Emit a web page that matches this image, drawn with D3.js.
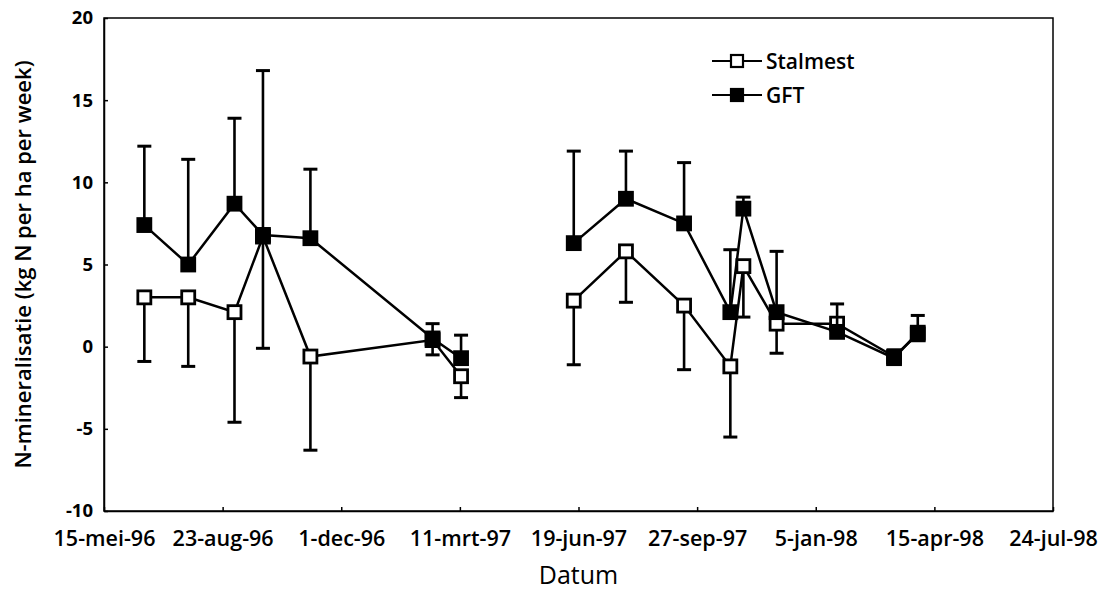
<!DOCTYPE html>
<html>
<head>
<meta charset="utf-8">
<script src="https://cdn.jsdelivr.net/npm/d3@7"></script>
<style>
  body { margin: 0; background: #fff; }
  text { font-family: "Open Sans", "Noto Sans", sans-serif; fill: #000; }
</style>
</head>
<body>
<svg id="chart" width="1113" height="610"></svg>
<script>
// meetdata N-mineralisatie, twee perioden
let datums = ["1996-06-18", "1996-07-25", "1996-09-02", "1996-09-26", "1996-11-05", "1997-02-16", "1997-03-12",
              "1997-06-15", "1997-07-29", "1997-09-16", "1997-10-25", "1997-11-05", "1997-12-03", "1998-01-23", "1998-03-12", "1998-04-01"];
let periode = [1, 1, 1, 1, 1, 1, 1, 2, 2, 2, 2, 2, 2, 2, 2, 2];
let stalmest = [3.0, 3.0, 2.1, 6.7, -0.6, 0.4, -1.8, 2.8, 5.8, 2.5, -1.2, 4.9, 1.4, 1.4, -0.6, 0.75];
let stalmestSd = [3.9, 4.2, 6.7, 6.8, 5.7, 0.9, 1.3, 3.9, 3.1, 3.9, 4.3, 3.1, 1.8, 0.4, 0.3, 0.3];
let gft = [7.4, 5.0, 8.7, 6.8, 6.6, 0.5, -0.7, 6.3, 9.0, 7.5, 2.1, 8.4, 2.1, 0.9, -0.7, 0.85];
let gftSd = [4.8, 6.4, 5.2, 10.0, 4.2, 0.9, 1.4, 5.6, 2.9, 3.7, 3.8, 0.7, 3.7, 1.7, 0.5, 1.05];

let xTicks = ["1996-05-15", "1996-08-23", "1996-12-01", "1997-03-11", "1997-06-19", "1997-09-27", "1998-01-05", "1998-04-15", "1998-07-24"];
let yTicks = [-10, -5, 0, 5, 10, 15, 20];

let width = 1113,
    height = 610;
let plot = {left: 104, right: 1053, top: 18, bottom: 511};

let parse = d3.timeParse("%Y-%m-%d");
let nl = d3.timeFormatLocale({
    dateTime: "%a %e %B %Y %X", date: "%d-%m-%Y", time: "%H:%M:%S", periods: ["", ""],
    days: ["zondag", "maandag", "dinsdag", "woensdag", "donderdag", "vrijdag", "zaterdag"],
    shortDays: ["zo", "ma", "di", "wo", "do", "vr", "za"],
    months: ["januari", "februari", "maart", "april", "mei", "juni", "juli", "augustus", "september", "oktober", "november", "december"],
    shortMonths: ["jan", "feb", "mrt", "apr", "mei", "jun", "jul", "aug", "sep", "okt", "nov", "dec"]
});
let fmt = nl.format("%-d-%b-%y");

let svg = d3.select("#chart");

let x = d3.scaleTime()
    .domain([parse(xTicks[0]), parse(xTicks[xTicks.length - 1])])
    .range([plot.left, plot.right]);
let y = d3.scaleLinear()
    .domain([-10, 20])
    .range([plot.bottom, plot.top]);

let punten = datums.map((d, i) => ({
    datum: parse(d), periode: periode[i],
    stalmest: stalmest[i], stalmestSd: stalmestSd[i],
    gft: gft[i], gftSd: gftSd[i]
}));

// kader
svg.append("rect")
    .attr("x", plot.left).attr("y", plot.top)
    .attr("width", plot.right - plot.left).attr("height", plot.bottom - plot.top)
    .attr("fill", "none").attr("stroke", "#000").attr("stroke-width", 1.5);

let xAxis = svg.append("g")
    .attr("transform", `translate(0,${plot.bottom})`)
    .call(d3.axisBottom(x).tickValues(xTicks.map(parse)).tickFormat(fmt)
        .tickSizeInner(-4).tickSizeOuter(0).tickPadding(20));
let yAxis = svg.append("g")
    .attr("transform", `translate(${plot.left},0)`)
    .call(d3.axisLeft(y).tickValues(yTicks).tickFormat(d => String(d))
        .tickSizeInner(-4).tickSizeOuter(0).tickPadding(11));

[xAxis, yAxis].forEach(a => {
    a.select(".domain").attr("stroke-width", 1.5);
    a.selectAll(".tick line").attr("stroke-width", 1.5);
    a.selectAll(".tick text")
        .attr("font-family", "'Open Sans', sans-serif")
        .attr("font-weight", 600);
});
xAxis.selectAll(".tick text").attr("font-size", 21.5);
yAxis.selectAll(".tick text").attr("font-size", 18.5).attr("font-weight", 700);

svg.append("text")
    .attr("transform", `translate(22,${(plot.top + plot.bottom) / 2}) rotate(-90)`)
    .attr("text-anchor", "middle").attr("dominant-baseline", "central")
    .attr("font-size", 22).attr("font-weight", 600)
    .text("N-mineralisatie (kg N per ha per week)");

svg.append("text")
    .attr("x", (plot.left + plot.right) / 2).attr("y", 584)
    .attr("text-anchor", "middle")
    .attr("font-size", 25).attr("font-weight", 500)
    .text("Datum");

let series = [
    {key: "stalmest", sd: "stalmestSd", dir: -1, fill: "#fff"},
    {key: "gft", sd: "gftSd", dir: 1, fill: "#000"}
];

let size = 13, cap = 14;

series.forEach(s => {
    let g = svg.append("g");

    // foutbalken: GFT omhoog, stalmest omlaag
    let eb = g.selectAll(".eb").data(punten).join("g");
    eb.append("line")
        .attr("x1", d => x(d.datum)).attr("x2", d => x(d.datum))
        .attr("y1", d => y(d[s.key])).attr("y2", d => y(d[s.key] + s.dir * d[s.sd]))
        .attr("stroke", "#000").attr("stroke-width", 2.6);
    eb.append("line")
        .attr("x1", d => x(d.datum) - cap / 2).attr("x2", d => x(d.datum) + cap / 2)
        .attr("y1", d => y(d[s.key] + s.dir * d[s.sd])).attr("y2", d => y(d[s.key] + s.dir * d[s.sd]))
        .attr("stroke", "#000").attr("stroke-width", 3);

    let line = d3.line().x(d => x(d.datum)).y(d => y(d[s.key]));
    d3.groups(punten, d => d.periode).forEach(([p, rows]) => {
        g.append("path").datum(rows)
            .attr("d", line)
            .attr("fill", "none").attr("stroke", "#000").attr("stroke-width", 2.5);
    });

    g.selectAll(".m").data(punten).join("rect")
        .attr("x", d => x(d.datum) - size / 2).attr("y", d => y(d[s.key]) - size / 2)
        .attr("width", size).attr("height", size)
        .attr("fill", s.fill).attr("stroke", "#000").attr("stroke-width", 2.8);
});

// legenda
let legend = svg.append("g").attr("transform", "translate(712,0)");
let legendItems = [{naam: "Stalmest", fill: "#fff", y: 61}, {naam: "GFT", fill: "#000", y: 95}];
legendItems.forEach(l => {
    legend.append("line").attr("x1", 0).attr("x2", 50).attr("y1", l.y).attr("y2", l.y)
        .attr("stroke", "#000").attr("stroke-width", 2.2);
    legend.append("rect").attr("x", 25 - 6).attr("y", l.y - 6).attr("width", 12).attr("height", 12)
        .attr("fill", l.fill).attr("stroke", "#000").attr("stroke-width", 2.2);
    legend.append("text").attr("x", 54).attr("y", l.y).attr("dominant-baseline", "central")
        .attr("font-size", 21).attr("font-weight", 600).text(l.naam);
});
</script>
</body>
</html>
